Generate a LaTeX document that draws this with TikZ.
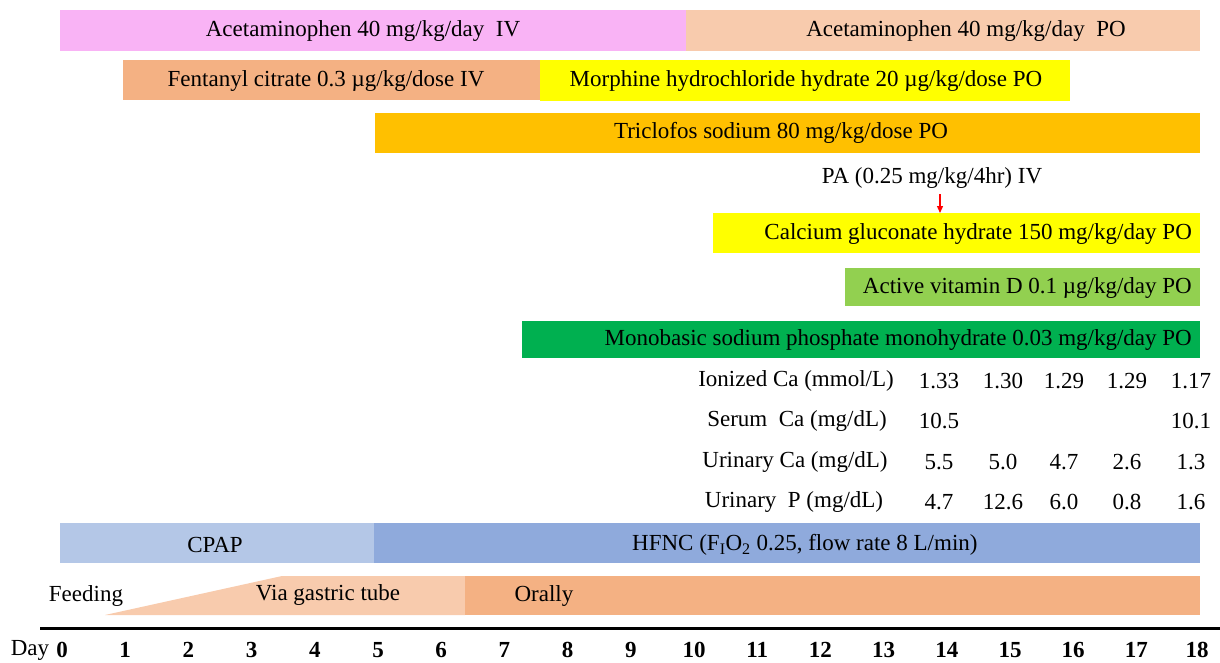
\documentclass[tikz,border=0pt]{standalone}
\usepackage{fontspec}
\setmainfont{Liberation Serif}
\usetikzlibrary{arrows.meta, positioning}

\definecolor{acetiv}{HTML}{F9B3F5}
\definecolor{acetpo}{HTML}{F8CBAD}
\definecolor{fentanyl}{HTML}{F4B183}
\definecolor{morphine}{HTML}{FFFF00}
\definecolor{triclofos}{HTML}{FFC000}
\definecolor{vitd}{HTML}{92D050}
\definecolor{phosphate}{HTML}{00B050}
\definecolor{cpap}{HTML}{B4C7E7}
\definecolor{hfnc}{HTML}{8FAADC}
\definecolor{gastric}{HTML}{F8CBAD}
\definecolor{orally}{HTML}{F4B183}

\begin{document}
\begin{tikzpicture}[x=1pt,y=-1pt]
\tikzset{bar/.style = {anchor=north west, inner sep=0pt, outer sep=0pt},
         txt/.style = {font=\fontsize{23}{27}\selectfont, inner sep=0pt},
         dayno/.style = {font=\fontsize{23}{27}\selectfont\bfseries, inner sep=0pt}}
\useasboundingbox (0,0) rectangle (1220,662);
% drug bars
\node[bar, fill=acetiv, minimum width=626pt, minimum height=41pt] (acetivbar) at (60,10) {};
\node[bar, fill=acetpo, minimum width=514pt, minimum height=41pt] (acetpobar) at (686,10) {};
\node[bar, fill=fentanyl, minimum width=417pt, minimum height=40pt] (fentbar) at (123,60) {};
\node[bar, fill=morphine, minimum width=530pt, minimum height=41pt] (morphbar) at (540,60) {};
\node[bar, fill=triclofos, minimum width=825pt, minimum height=40pt] (triclobar) at (375,113) {};
\node[bar, fill=morphine, minimum width=487pt, minimum height=40pt] (calcbar) at (713,213) {};
\node[bar, fill=vitd, minimum width=355pt, minimum height=38pt] (vitdbar) at (845,268) {};
\node[bar, fill=phosphate, minimum width=678pt, minimum height=37pt] (phosbar) at (522,321) {};

% drug labels
\node[txt] (acetiv) at (363,31) {Acetaminophen 40 mg/kg/day\ \ IV};
\node[txt] (acetpo) at (966,31) {Acetaminophen 40 mg/kg/day\ \ PO};
\node[txt] (fent) at (326,81) {Fentanyl citrate 0.3 µg/kg/dose IV};
\node[txt] (morph) at (806,81) {Morphine hydrochloride hydrate 20 µg/kg/dose PO};
\node[txt] (triclo) at (781,133) {Triclofos sodium 80 mg/kg/dose PO};
\node[txt] (pa) at (932,178) {PA (0.25 mg/kg/4hr) IV};
\node[txt, anchor=east] (calc) at (1192,234) {Calcium gluconate hydrate 150 mg/kg/day PO};
\node[txt, anchor=east] (vitd) at (1192,288) {Active vitamin D 0.1 µg/kg/day PO};
\node[txt, anchor=east] (phos) at (1192,340) {Monobasic sodium phosphate monohydrate 0.03 mg/kg/day PO};

% arrow
\coordinate (paarrow) at (940,194);
\draw[red, line width=1.3pt, -{Triangle[width=6pt,length=7pt]}] (paarrow) -- (calcbar.north -| paarrow);

% laboratory data
\node[txt] (ionca) at (796,381) {Ionized Ca (mmol/L)};
\node[txt] (serca) at (797,421) {Serum\ \ Ca (mg/dL)};
\node[txt] (urica) at (795,462) {Urinary Ca (mg/dL)};
\node[txt] (urip) at (794,502) {Urinary\ \ P (mg/dL)};

\node[txt] (ionca1) at (939,381) {1.33};
\node[txt] (ionca2) at (1003,381) {1.30};
\node[txt] (ionca3) at (1064,381) {1.29};
\node[txt] (ionca4) at (1127,381) {1.29};
\node[txt] (ionca5) at (1191,381) {1.17};
\node[txt] (serca1) at (939,421) {10.5};
\node[txt] (serca5) at (1191,421) {10.1};
\node[txt] (urica1) at (939,462) {5.5};
\node[txt] (urica2) at (1003,462) {5.0};
\node[txt] (urica3) at (1064,462) {4.7};
\node[txt] (urica4) at (1127,462) {2.6};
\node[txt] (urica5) at (1191,462) {1.3};
\node[txt] (urip1) at (939,502) {4.7};
\node[txt] (urip2) at (1003,502) {12.6};
\node[txt] (urip3) at (1064,502) {6.0};
\node[txt] (urip4) at (1127,502) {0.8};
\node[txt] (urip5) at (1191,502) {1.6};

% respiratory support
\node[bar, fill=cpap, minimum width=314pt, minimum height=40pt] (cpapbar) at (60,523) {};
\node[bar, fill=hfnc, minimum width=826pt, minimum height=40pt] (hfncbar) at (374,523) {};
\node[txt] (cpap) at (215,545) {CPAP};
\node[txt, anchor=west] (hfnc) at (632,545) {HFNC (F\textsubscript{I}O\textsubscript{2} 0.25, flow rate 8 L/min)};

% feeding
\fill[gastric] (105,615) -- (282,576) -- (465,576) -- (465,615) -- cycle;
\node[bar, fill=orally, minimum width=735pt, minimum height=39pt] (orallybar) at (465,576) {};
\node[txt] (feeding) at (86,596) {Feeding};
\node[txt] (gastric) at (328,595) {Via gastric tube};
\node[txt] (orally) at (544,596) {Orally};

% time axis
\coordinate (axisl) at (40,628);
\coordinate (axisr) at (1220,628);
\draw[line width=3pt] (axisl) -- (axisr);
\node[txt] (daylab) at (30,650) {Day};
\node[dayno] (d0) at (62,650) {0};
\node[dayno] (d1) at (125.2,650) {1};
\node[dayno] (d2) at (188.4,650) {2};
\node[dayno] (d3) at (251.6,650) {3};
\node[dayno] (d4) at (314.8,650) {4};
\node[dayno] (d5) at (378,650) {5};
\node[dayno] (d6) at (441.2,650) {6};
\node[dayno] (d7) at (504.4,650) {7};
\node[dayno] (d8) at (567.6,650) {8};
\node[dayno] (d9) at (630.8,650) {9};
\node[dayno] (d10) at (694,650) {10};
\node[dayno] (d11) at (757.2,650) {11};
\node[dayno] (d12) at (820.4,650) {12};
\node[dayno] (d13) at (883.6,650) {13};
\node[dayno] (d14) at (946.8,650) {14};
\node[dayno] (d15) at (1010,650) {15};
\node[dayno] (d16) at (1073.2,650) {16};
\node[dayno] (d17) at (1136.4,650) {17};
\node[dayno] (d18) at (1197,650) {18};
\end{tikzpicture}
\end{document}
